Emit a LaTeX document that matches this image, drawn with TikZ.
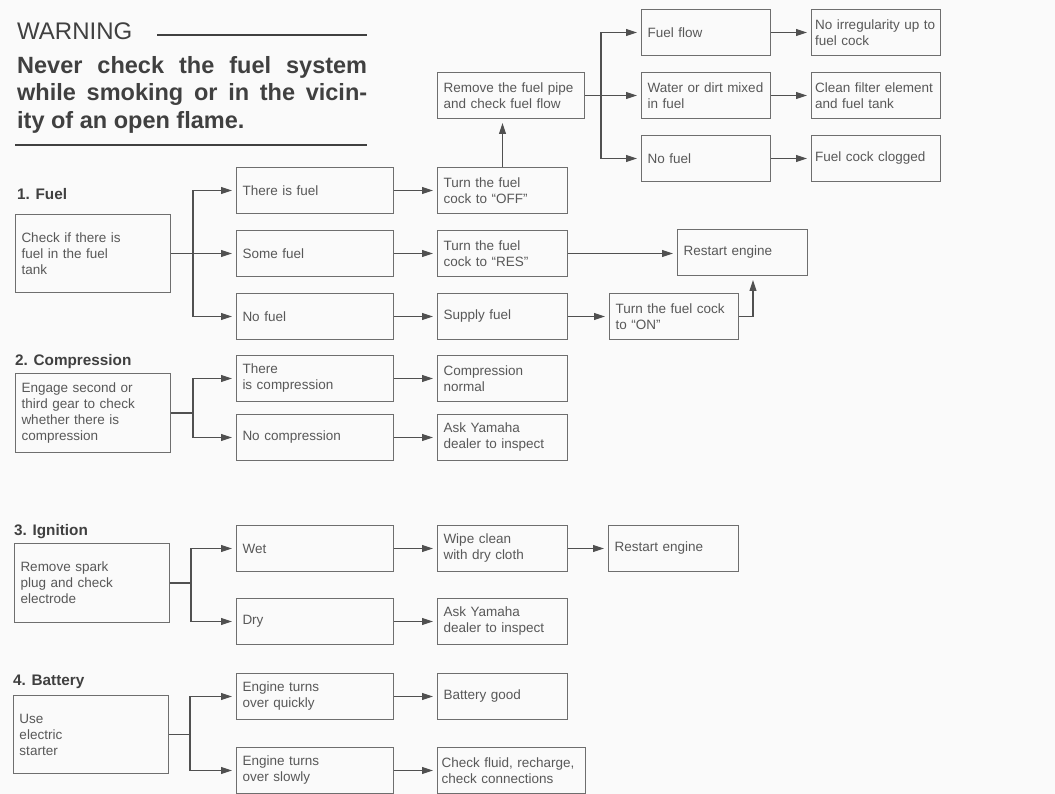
\documentclass[tikz,border=0pt]{standalone}
\usepackage{fontspec}
\setmainfont{Liberation Sans}
\usetikzlibrary{arrows.meta}

\definecolor{linegray}{HTML}{6E6E6E}
\definecolor{arrowgray}{HTML}{505050}
\definecolor{textgray}{HTML}{585858}
\definecolor{headgray}{HTML}{404040}
\definecolor{papergray}{HTML}{FAFAFA}

\newcommand{\boxfont}{\fontsize{13.5}{16}\selectfont}
\newcommand{\secfont}{\fontsize{15.3}{18}\selectfont\bfseries}

\tikzset{
  box/.style={draw=linegray, line width=1pt, text=textgray, font=\boxfont,
    anchor=north west, align=left, inner xsep=6pt, inner ysep=0pt,
    minimum height=46pt, text width=#1},
  box/.default=145pt,
  mainbox/.style={box=143pt, minimum height=78pt},
  arr/.style={draw=arrowgray, line width=1.1pt, -{Triangle[length=11pt,width=7pt]}, shorten >=4pt},
  link/.style={draw=arrowgray, line width=1.1pt},
  sechead/.style={anchor=base west, inner sep=0pt, text=headgray, font=\secfont}
}

\begin{document}
\begin{tikzpicture}[x=1pt,y=-1pt]
  \fill[papergray] (0,0) rectangle (1055,794);
  \useasboundingbox (0,0) rectangle (1055,794);

  % warning block
  \node[anchor=base west, inner sep=0pt, text=headgray, font=\fontsize{24}{28}\selectfont] (warn) at (17,40) {WARNING};
  \draw[headgray, line width=1.3pt] (157,35) -- (367,35);
  \node[anchor=north west, inner sep=0pt, text width=350pt, align=justify, text=headgray,
        font=\fontsize{23.5}{27.5}\selectfont\bfseries] (warntext) at (17,56)
    {Never check the fuel system\linebreak while smoking or in the vicin-\linebreak ity of an open flame.};
  \draw[headgray, line width=1.3pt] (15,145) -- (367,145);

  % 1. fuel
  \node[sechead] (secfuel) at (17,200) {1. Fuel};
  \node[mainbox] (fuelchk) at (15,214) {Check if there is\\fuel in the fuel\\tank};
  \node[box] (thfuel) at (236,167) {There is fuel};
  \node[box] (somefuel) at (236,230) {Some fuel};
  \node[box] (nofuel) at (236,293) {No fuel};
  \node[box=118pt] (cockoff) at (437,167) {Turn the fuel\\cock to ``OFF''};
  \node[box=118pt] (cockres) at (437,230) {Turn the fuel\\cock to ``RES''};
  \node[box=118pt] (supply) at (437,293) {Supply fuel};
  \node[box=135pt] (rmpipe) at (437,72) {Remove the fuel pipe\\and check fuel flow};
  \node[box=117pt] (flow) at (641,9) {Fuel flow};
  \node[box=117pt] (dirt) at (641,72) {Water or dirt mixed\\in fuel};
  \node[box=117pt] (nofl) at (641,135) {No fuel};
  \node[box=122pt, inner xsep=3.5pt] (noirr) at (811,9) {No irregularity up to\\fuel cock};
  \node[box=122pt, inner xsep=3.5pt] (cleanflt) at (811,72) {Clean filter element\\and fuel tank};
  \node[box=122pt, inner xsep=3.5pt] (clogged) at (811,135) {Fuel cock clogged};
  \node[box=118pt] (restartA) at (677,229) {Restart engine};
  \node[box=117pt] (cockon) at (609,293) {Turn the fuel cock\\to ``ON''};

  \coordinate (fj) at ([xshift=22pt]fuelchk.east);
  \draw[arr] (fuelchk.east) -- (somefuel.west);
  \draw[arr] (fj) |- (thfuel.west);
  \draw[arr] (fj) |- (nofuel.west);
  \draw[arr] (thfuel) -- (cockoff);
  \draw[arr] (somefuel) -- (cockres);
  \draw[arr] (nofuel) -- (supply);
  \draw[arr] (cockoff.north) -- (cockoff.north |- rmpipe.south);
  \coordinate (pj) at ([xshift=16pt]rmpipe.east);
  \draw[arr] (rmpipe.east) -- (dirt.west);
  \draw[arr] (pj) |- (flow.west);
  \draw[arr] (pj) |- (nofl.west);
  \draw[arr] (flow) -- (noirr);
  \draw[arr] (dirt) -- (cleanflt);
  \draw[arr] (nofl) -- (clogged);
  \draw[arr] (cockres) -- (cockres -| restartA.west);
  \draw[arr] (supply) -- (cockon);
  \draw[arr] (cockon.east) -- ++(14,0) coordinate (onbend) -- (onbend |- restartA.south);

  % 2. compression
  \node[sechead] (seccomp) at (15,365) {2. Compression};
  \node[mainbox, minimum height=79pt] (compchk) at (15,373) {Engage second or\\third gear to check\\whether there is\\compression};
  \node[box] (thcomp) at (236,355) {There\\is compression};
  \node[box] (nocomp) at (236,414) {No compression};
  \node[box=118pt] (compok) at (437,355) {Compression\\normal};
  \node[box=118pt] (askA) at (437,414) {Ask Yamaha\\dealer to inspect};
  \coordinate (cj) at ([xshift=22pt]compchk.east);
  \draw[link] (compchk.east) -- (cj);
  \draw[arr] (cj) |- (thcomp.west);
  \draw[arr] (cj) |- (nocomp.west);
  \draw[arr] (thcomp) -- (compok);
  \draw[arr] (nocomp) -- (askA);

  % 3. ignition
  \node[sechead] (secign) at (14,535) {3. Ignition};
  \node[mainbox, minimum height=79pt] (igchk) at (14,543) {Remove spark\\plug and check\\electrode};
  \node[box] (wet) at (236,525) {Wet};
  \node[box] (dry) at (236,598) {Dry};
  \node[box=118pt] (wipe) at (437,525) {Wipe clean\\with dry cloth};
  \node[box=118pt] (askB) at (437,598) {Ask Yamaha\\dealer to inspect};
  \node[box=118pt] (restartB) at (608,525) {Restart engine};
  \coordinate (ij) at ([xshift=21pt]igchk.east);
  \draw[link] (igchk.east) -- (ij);
  \draw[arr] (ij) |- (wet.west);
  \draw[arr] (ij) |- (dry.west);
  \draw[arr] (wet) -- (wipe);
  \draw[arr] (dry) -- (askB);
  \draw[arr] (wipe) -- (restartB);

  % 4. battery
  \node[sechead] (secbatt) at (13,685) {4. Battery};
  \node[mainbox] (battchk) at (13,695) {Use\\electric\\starter};
  \node[box] (quick) at (236,673) {Engine turns\\over quickly};
  \node[box] (slow) at (236,747) {Engine turns\\over slowly};
  \node[box=118pt] (battok) at (437,673) {Battery good};
  \node[box=140pt, inner xsep=4pt] (fluid) at (437,747) {Check fluid, recharge,\\check connections};
  \coordinate (bj) at ([xshift=21pt]battchk.east);
  \draw[link] (battchk.east) -- (bj);
  \draw[arr] (bj) |- (quick.west);
  \draw[arr] (bj) |- (slow.west);
  \draw[arr] (quick) -- (battok);
  \draw[arr] (slow) -- (fluid);
\end{tikzpicture}
\end{document}
